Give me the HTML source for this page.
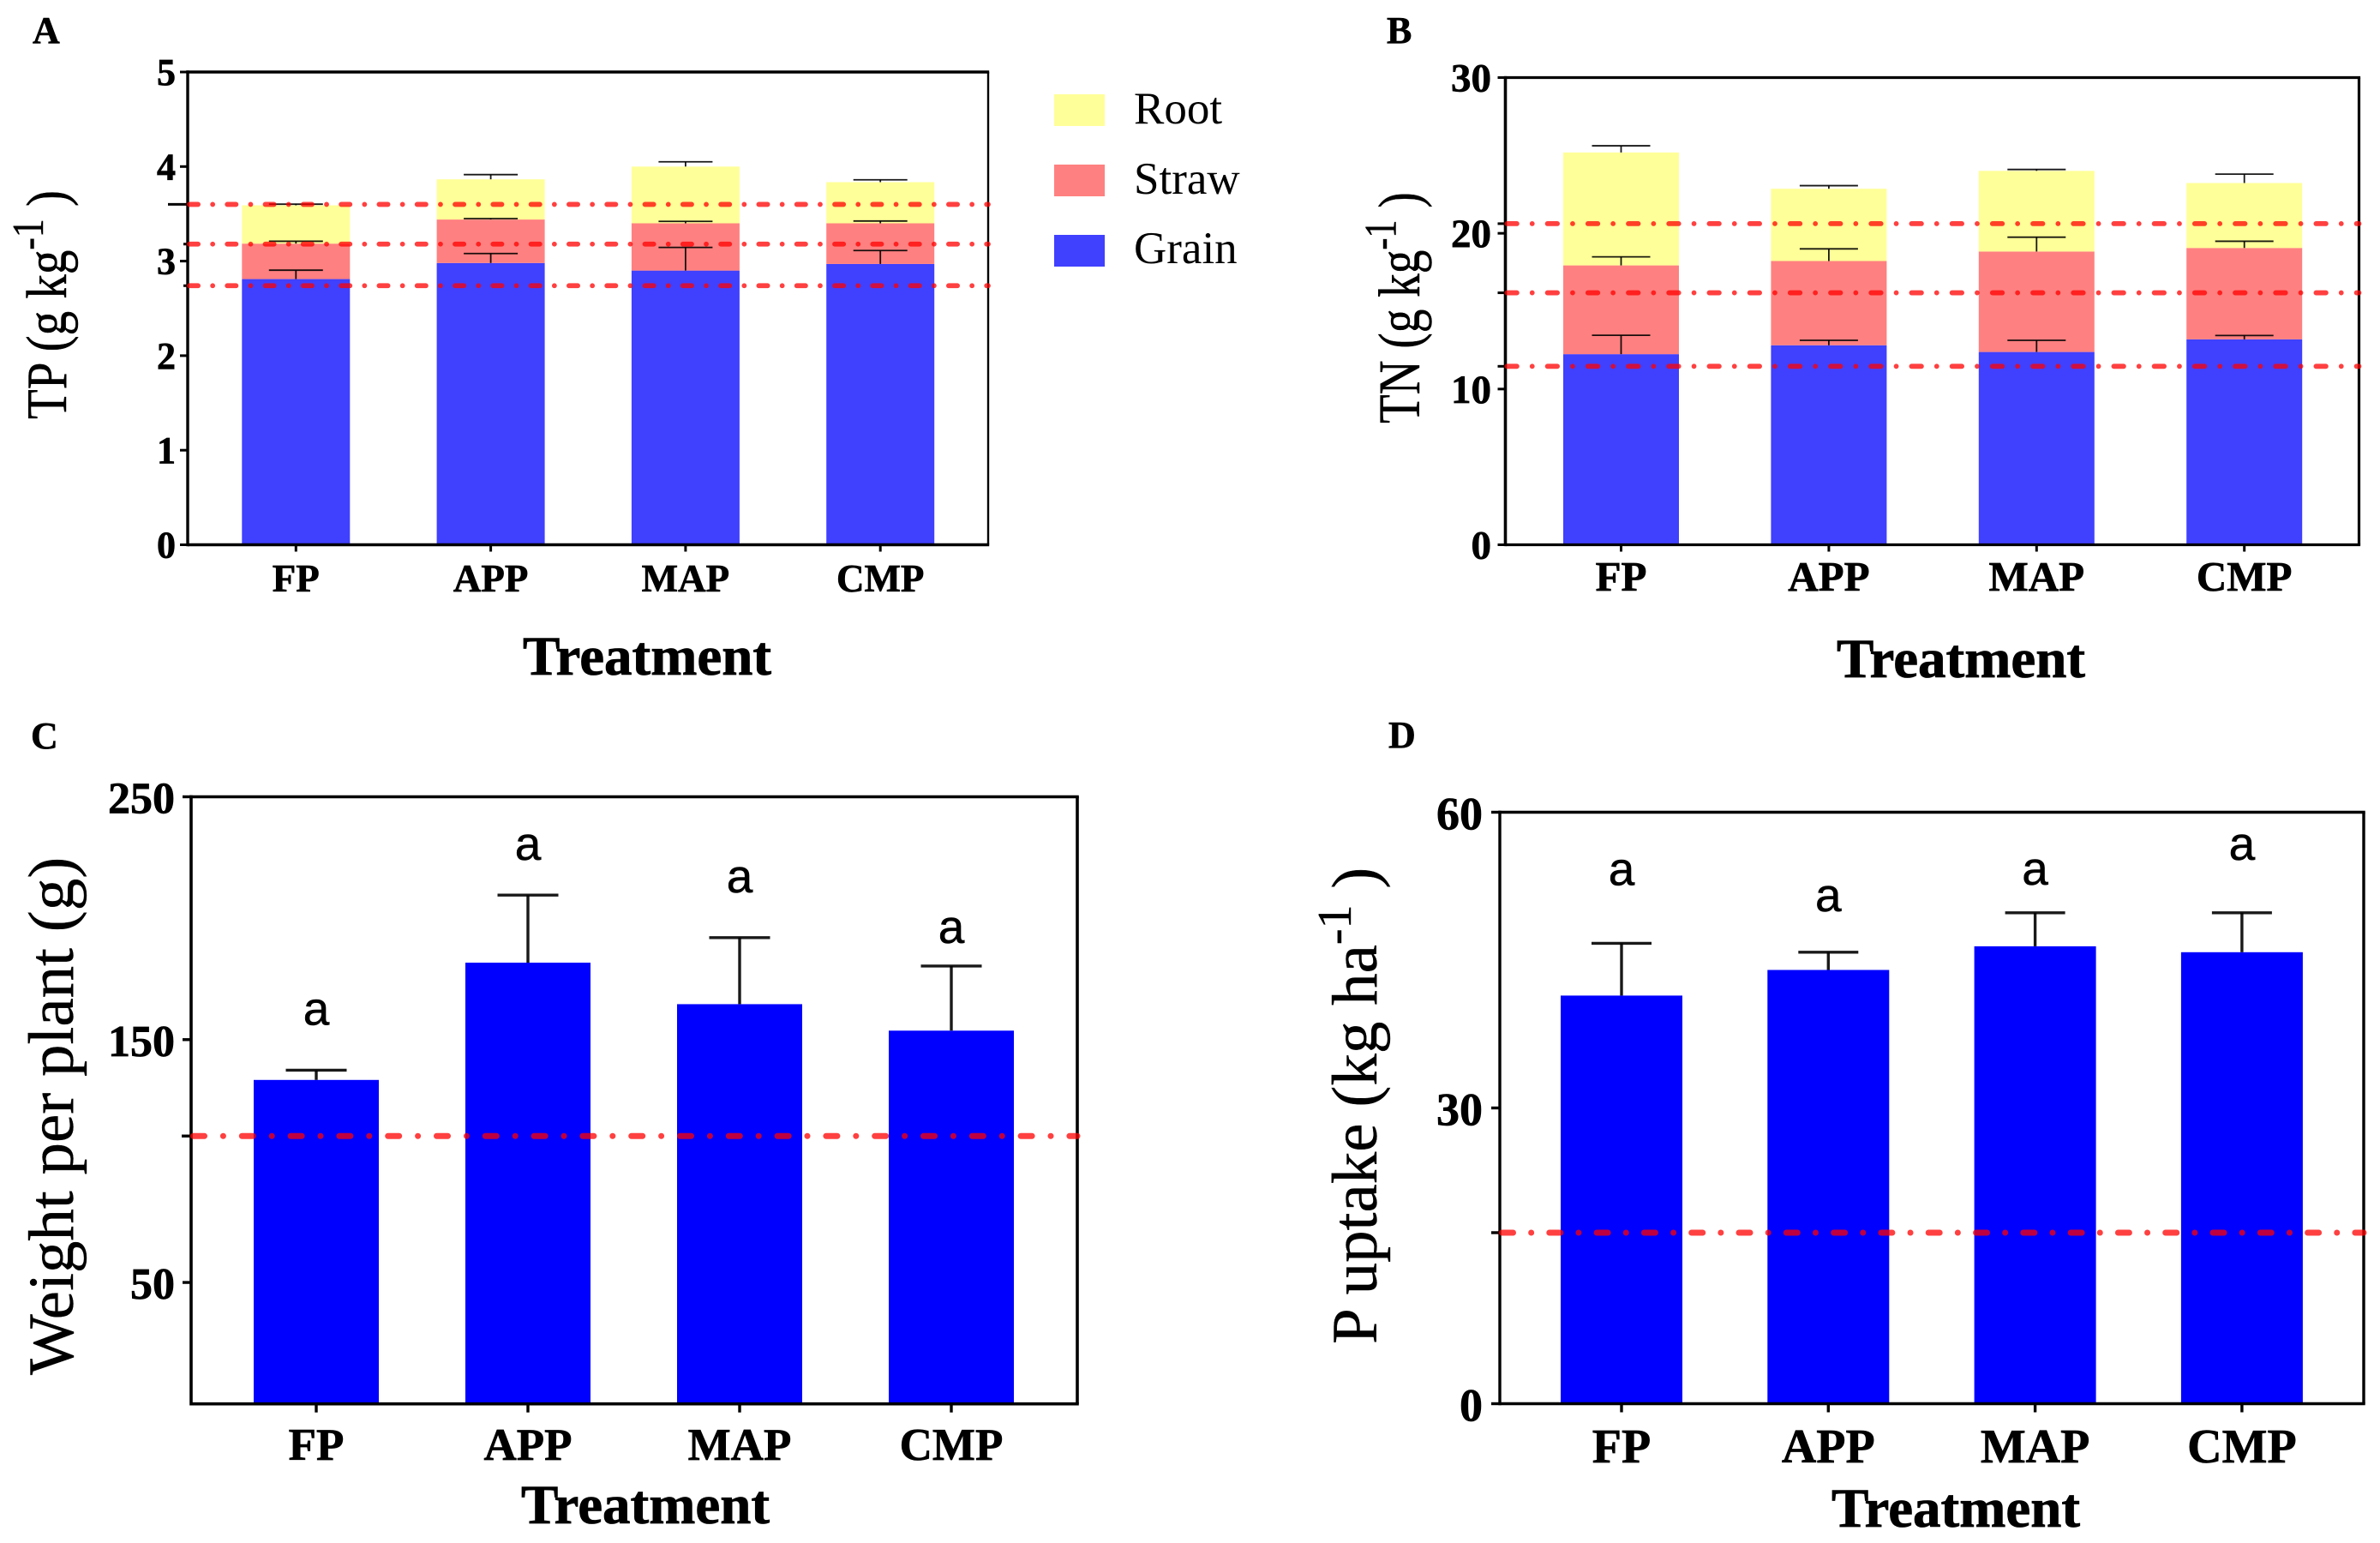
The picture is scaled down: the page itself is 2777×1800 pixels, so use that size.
<!DOCTYPE html>
<html lang="en">
<head>
<meta charset="utf-8">
<title>TP, TN, weight per plant and P uptake by treatment</title>
<style>
html,body{margin:0;padding:0;background:#fff;}
svg{display:block;}
text{font-family:"Liberation Serif","DejaVu Serif",serif;fill:#000;}
.panel{font-weight:bold;font-size:44px;stroke:#000;stroke-width:.6px;}
.xt{font-weight:bold;text-anchor:middle;stroke:#000;stroke-width:.7px;}
.yt{font-weight:bold;text-anchor:end;stroke:#000;stroke-width:.7px;}
.xtitle{font-weight:bold;font-size:65px;text-anchor:middle;stroke:#000;stroke-width:.8px;}
.ytitle{font-size:60px;stroke:#000;stroke-width:.4px;}
.leg{font-size:53px;}
.sig{font-family:"Liberation Sans","DejaVu Sans",sans-serif;font-size:55px;text-anchor:middle;stroke:#000;stroke-width:.5px;}
</style>
</head>
<body>
<svg id="fig" xmlns="http://www.w3.org/2000/svg" width="2777" height="1800" viewBox="0 0 2777 1800">
  <rect x="0" y="0" width="2777" height="1800" fill="#fff"/>
  <g id="A"></g>
  <g id="B"></g>
  <g id="C"></g>
  <g id="D"></g>

  <text class="panel" x="38" y="50">A</text>
  <text class="panel" x="1618" y="50">B</text>
  <text class="panel" x="36" y="873">C</text>
  <text class="panel" x="1620" y="872">D</text>

  <text class="xtitle" x="755" y="787">Treatment</text>
  <text class="xtitle" x="2288" y="790">Treatment</text>
  <text class="xtitle" x="753" y="1777">Treatment</text>
  <text class="xtitle" x="2282" y="1781">Treatment</text>

  <text class="ytitle" transform="translate(77,489) rotate(-90) scale(.95,1.12)">TP (g kg<tspan dy="-24" font-size="46">-1</tspan><tspan dy="24"> )</tspan></text>
  <text class="ytitle" transform="translate(1656,494) rotate(-90) scale(.92,1.15)">TN (g kg<tspan dy="-24" font-size="46">-1</tspan><tspan dy="24"> )</tspan></text>
  <text class="ytitle" style="font-size:75px" transform="translate(85,1604) rotate(-90)">Weight per plant (g)</text>
  <text class="ytitle" style="font-size:75px" transform="translate(1606,1568) rotate(-90)">P uptake (kg ha<tspan dy="-30" font-size="56">-1</tspan><tspan dy="30"> )</tspan></text>

  <g>
    <rect x="1230" y="110" width="59" height="37" fill="#ffff99"/>
    <text class="leg" x="1323" y="144">Root</text>
    <rect x="1230" y="192" width="59" height="37" fill="#ff8080"/>
    <text class="leg" x="1323" y="226">Straw</text>
    <rect x="1230" y="274" width="59" height="37" fill="#4040ff"/>
    <text class="leg" x="1323" y="307">Grain</text>
  </g>
</svg>
<script>
// ---- data ----
const categories = ['FP', 'APP', 'MAP', 'CMP'];

const tpGrain = [2.81, 2.98, 2.90, 2.97];
const tpStraw = [0.375, 0.46, 0.50, 0.43];
const tpRoot = [0.405, 0.425, 0.60, 0.435];
const tpGrainErr = [0.094, 0.10, 0.245, 0.142];
const tpStrawErr = [0.025, 0.01, 0.02, 0.024];
const tpRootErr = [0.012, 0.05, 0.05, 0.025];
const tpTicks = [0, 1, 2, 3, 4, 5];
const tpRefs = [3.6, 3.18, 2.74];

const tnGrain = [12.24, 12.81, 12.38, 13.19];
const tnStraw = [5.70, 5.41, 6.45, 5.87];
const tnRoot = [7.25, 4.64, 5.18, 4.17];
const tnGrainErr = [1.21, 0.32, 0.75, 0.25];
const tnStrawErr = [0.55, 0.78, 0.92, 0.43];
const tnRootErr = [0.43, 0.20, 0.09, 0.57];
const tnTicks = [0, 10, 20, 30];
const tnRefs = [20.62, 16.18, 11.46];

const weightValues = [133.4, 181.7, 164.6, 153.7];
const weightErr = [4.0, 27.8, 27.4, 26.6];
const weightTicks = [50, 150, 250];
const weightRefs = [110.3];
const weightLetters = ['a', 'a', 'a', 'a'];

const uptakeValues = [41.4, 44.0, 46.4, 45.8];
const uptakeErr = [5.3, 1.8, 3.4, 4.0];
const uptakeTicks = [0, 30, 60];
const uptakeRefs = [17.35];
const uptakeLetters = ['a', 'a', 'a', 'a'];

// ---- layout of each panel (pixels) ----
const layoutA = {id:'A', left:219, right:1153, top:84, bottom:635.5, max:5, first:345.3, step:227.3, barW:126, capW:63, errW:1.8,
  tickLen:9, tickW:3, frame:[3.4,3.4,3.4,2.4], tickFont:44, tickAnchor:205, tickBase:15, xFont:45, xBase:690, xTickLen:8,
  refTicks:[23,5,5], dash:[44.3,16,5.8], letterGap:[]};
const layoutB = {id:'B', left:1756.5, right:2752.5, top:90.5, bottom:635.5, max:30, first:1891.5, step:242.4, barW:135, capW:68, errW:1.8,
  tickLen:9, tickW:3, frame:[3.6,3.2,3.2,3.2], tickFont:47, tickAnchor:1740, tickBase:16, xFont:49, xBase:689, xTickLen:8,
  refTicks:[9,9,9], dash:[47.2,17.3,5.8], letterGap:[]};
const layoutC = {id:'C', left:223, right:1257, top:929.5, bottom:1637.7, max:250, first:369, step:247, barW:146, capW:71, errW:3.4,
  tickLen:10, tickW:3.4, frame:[3.6,3.6,3.6,3.6], tickFont:52, tickAnchor:204, tickBase:19, xFont:53, xBase:1703, xTickLen:10,
  refTicks:[11], dash:[56.8,20,7], letterGap:[53,41,53,27]};
const layoutD = {id:'D', left:1750, right:2758, top:947.5, bottom:1637.5, max:60, first:1892, step:241.3, barW:142, capW:70, errW:3.4,
  tickLen:10, tickW:3.4, frame:[3.4,3.4,3.4,3.4], tickFont:54, tickAnchor:1730, tickBase:20, xFont:56, xBase:1706, xTickLen:10,
  refTicks:[10], dash:[55.3,20,7], letterGap:[68,48,33,62]};

const NS = 'http://www.w3.org/2000/svg';
function mk(parent, tag, attrs, txt) {
  const el = document.createElementNS(NS, tag);
  for (const k in attrs) el.setAttribute(k, attrs[k]);
  if (txt !== undefined) el.textContent = txt;
  parent.appendChild(el);
  return el;
}
function yAxis(L) { return v => L.bottom - (v / L.max) * (L.bottom - L.top); }
function xAxis(L) { return i => L.first + i * L.step; }

function drawBar(L, g, i, base, val, err, fill, label) {
  const x = xAxis(L), y = yAxis(L);
  const rect = mk(g, 'rect', {x: x(i) - L.barW / 2, y: y(base + val), width: L.barW, height: y(base) - y(base + val), fill: fill});
  
  
  return rect;
}
function drawErr(L, g, i, top, err, label) {
  const x = xAxis(L), y = yAxis(L);
  const stem = mk(g, 'line', {x1: x(i), x2: x(i), y1: y(top), y2: y(top + err), stroke: '#000', 'stroke-width': L.errW, 'stroke-opacity': 0.9});
  
  
  const cap = mk(g, 'line', {x1: x(i) - L.capW / 2, x2: x(i) + L.capW / 2, y1: y(top + err), y2: y(top + err), stroke: '#000', 'stroke-width': L.errW, 'stroke-opacity': 0.9});
  
  
}
function drawAxes(L, g, ticks) {
  const x = xAxis(L), y = yAxis(L);
  const f = L.frame;
  const topLine = mk(g, 'line', {x1: L.left - f[0] / 2, x2: L.right + f[3] / 2, y1: L.top, y2: L.top, stroke: '#000', 'stroke-width': f[1]});
  
  
  const rightLine = mk(g, 'line', {x1: L.right, x2: L.right, y1: L.top, y2: L.bottom, stroke: '#000', 'stroke-width': f[3]});
  
  
  const yLine = mk(g, 'line', {x1: L.left, x2: L.left, y1: L.top - f[1] / 2, y2: L.bottom + f[2] / 2, stroke: '#000', 'stroke-width': f[0]});
  
  
  const xLine = mk(g, 'line', {x1: L.left, x2: L.right + f[3] / 2, y1: L.bottom, y2: L.bottom, stroke: '#000', 'stroke-width': f[2]});
  
  
  ticks.forEach(t => {
    const tk = mk(g, 'line', {x1: L.left - L.tickLen, x2: L.left, y1: y(t), y2: y(t), stroke: '#000', 'stroke-width': L.tickW});
    
    
    const lb = mk(g, 'text', {class: 'yt', x: L.tickAnchor, y: y(t) + L.tickBase, 'font-size': L.tickFont}, String(t));
    
    
  });
  categories.forEach((c, i) => {
    const tk = mk(g, 'line', {x1: x(i), x2: x(i), y1: L.bottom, y2: L.bottom + L.xTickLen, stroke: '#000', 'stroke-width': L.tickW});
    
    
    const lb = mk(g, 'text', {class: 'xt', x: x(i), y: L.xBase, 'font-size': L.xFont}, c);
    
    
  });
}
function drawRefs(L, g, refs) {
  const y = yAxis(L);
  const p = L.dash[0], d = L.dash[1], w = L.dash[2];
  const seg = d - w, gap = (p - seg) / 2;
  refs.forEach((r, k) => {
    const tk = mk(g, 'line', {x1: L.left - L.refTicks[k], x2: L.left, y1: y(r), y2: y(r), stroke: '#000', 'stroke-width': L.tickW});
    
    
    const ln = mk(g, 'line', {x1: L.left + w / 2 - 1, x2: L.right, y1: y(r), y2: y(r), stroke: '#ff0000', 'stroke-opacity': 0.75,
      'stroke-width': w, 'stroke-linecap': 'round', 'stroke-dasharray': seg + ' ' + gap + ' 0.01 ' + (gap - 0.01)});
    
    
  });
}
function drawStacked(L, grain, straw, root, grainErr, strawErr, rootErr, ticks, refs) {
  const g = document.getElementById(L.id);
  categories.forEach((c, i) => {
    drawBar(L, g, i, 0, grain[i], 0, '#4040ff', 'grain');
    drawBar(L, g, i, grain[i], straw[i], 0, '#ff8080', 'straw');
    drawBar(L, g, i, grain[i] + straw[i], root[i], 0, '#ffff99', 'root');
  });
  categories.forEach((c, i) => {
    drawErr(L, g, i, grain[i], grainErr[i], 'grain');
    drawErr(L, g, i, grain[i] + straw[i], strawErr[i], 'straw');
    drawErr(L, g, i, grain[i] + straw[i] + root[i], rootErr[i], 'root');
  });
  drawAxes(L, g, ticks);
  drawRefs(L, g, refs);
}
function drawSimple(L, values, errs, ticks, refs, letters) {
  const g = document.getElementById(L.id);
  const x = xAxis(L), y = yAxis(L);
  categories.forEach((c, i) => {
    drawBar(L, g, i, 0, values[i], 0, '#0000ff', 'value');
    drawErr(L, g, i, values[i], errs[i], 'value');
    const s = mk(g, 'text', {class: 'sig', x: x(i), y: y(values[i] + errs[i]) - L.letterGap[i]}, letters[i]);
    
    
  });
  drawAxes(L, g, ticks);
  drawRefs(L, g, refs);
}
drawStacked(layoutA, tpGrain, tpStraw, tpRoot, tpGrainErr, tpStrawErr, tpRootErr, tpTicks, tpRefs);
drawStacked(layoutB, tnGrain, tnStraw, tnRoot, tnGrainErr, tnStrawErr, tnRootErr, tnTicks, tnRefs);
drawSimple(layoutC, weightValues, weightErr, weightTicks, weightRefs, weightLetters);
drawSimple(layoutD, uptakeValues, uptakeErr, uptakeTicks, uptakeRefs, uptakeLetters);
</script>
</body>
</html>
